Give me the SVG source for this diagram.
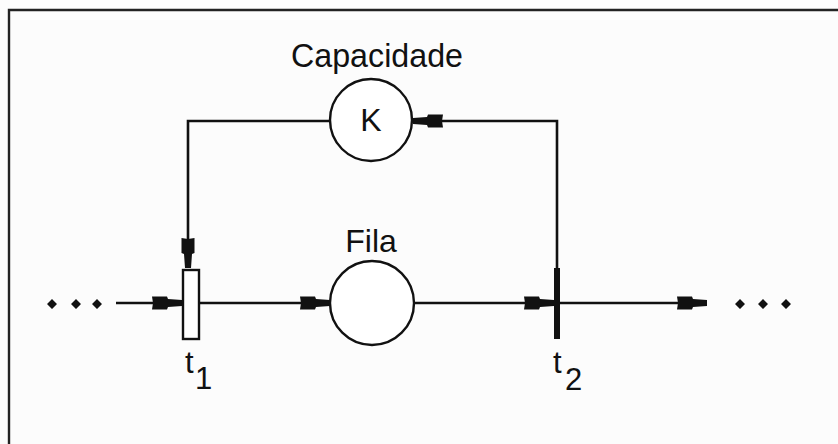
<svg xmlns="http://www.w3.org/2000/svg" width="838" height="444" viewBox="0 0 838 444">
<defs>
<style>
.ln{fill:none;stroke:#111;stroke-width:2.6}
.pl{fill:#fff;stroke:#111;stroke-width:2.4}
.tx{font-family:"Liberation Sans",Arial,sans-serif;fill:#111}
.dot{fill:#111}
</style>
<marker id="ar" viewBox="-32 -8 34 16" refX="0" refY="0" markerWidth="34" markerHeight="16" markerUnits="userSpaceOnUse" orient="auto">
<path d="M0,-3 L-14,-4 L-15,-6.5 L-30,-6.5 L-29,0 L-30,6.5 L-15,6.5 L-14,4 L0,3 Z" fill="#111"/>
</marker>
</defs>
<rect width="838" height="444" fill="#fcfcfc"/>
<g id="frame">
<path d="M9,450 L9,10 L845,10" fill="none" stroke="#222" stroke-width="2.4"/>
</g>
<g id="connectors">
<line class="ln" x1="116" y1="303" x2="182" y2="303" marker-end="url(#ar)"/>
<line class="ln" x1="199" y1="303" x2="330" y2="303" marker-end="url(#ar)"/>
<line class="ln" x1="414" y1="303" x2="554" y2="303" marker-end="url(#ar)"/>
<line class="ln" x1="557" y1="303" x2="707" y2="303" marker-end="url(#ar)"/>
<polyline class="ln" points="330,121 188,121 188,268" marker-end="url(#ar)"/>
<polyline class="ln" points="557,268 557,121 413,121" marker-end="url(#ar)"/>
</g>
<g id="place-capacidade">
<circle class="pl" cx="371" cy="120" r="41"/>
<text class="tx" x="377" y="67" font-size="33" text-anchor="middle" textLength="172" lengthAdjust="spacingAndGlyphs">Capacidade</text>
<text class="tx" x="371" y="131" font-size="32" text-anchor="middle">K</text>
</g>
<g id="place-fila">
<circle class="pl" cx="372" cy="303" r="42"/>
<text class="tx" x="371" y="252" font-size="32" text-anchor="middle">Fila</text>
</g>
<g id="t1">
<rect x="183" y="270" width="16" height="69" fill="#fff" stroke="#111" stroke-width="2.4"/>
<text class="tx" x="185" y="373" font-size="31">t</text>
<text class="tx" x="195" y="389" font-size="31">1</text>
</g>
<g id="t2">
<rect x="554" y="268" width="6" height="71" fill="#111"/>
<text class="tx" x="553" y="373" font-size="31">t</text>
<text class="tx" x="565" y="390" font-size="31">2</text>
</g>
<g id="ellipsis-left">
<path class="dot" d="M52,299 L57,304 L52,309 L47,304 Z M76,299 L81,304 L76,309 L71,304 Z M97,299 L102,304 L97,309 L92,304 Z"/>
</g>
<g id="ellipsis-right">
<path class="dot" d="M740,299 L745,304 L740,309 L735,304 Z M763,299 L768,304 L763,309 L758,304 Z M786,299 L791,304 L786,309 L781,304 Z"/>
</g>
</svg>
